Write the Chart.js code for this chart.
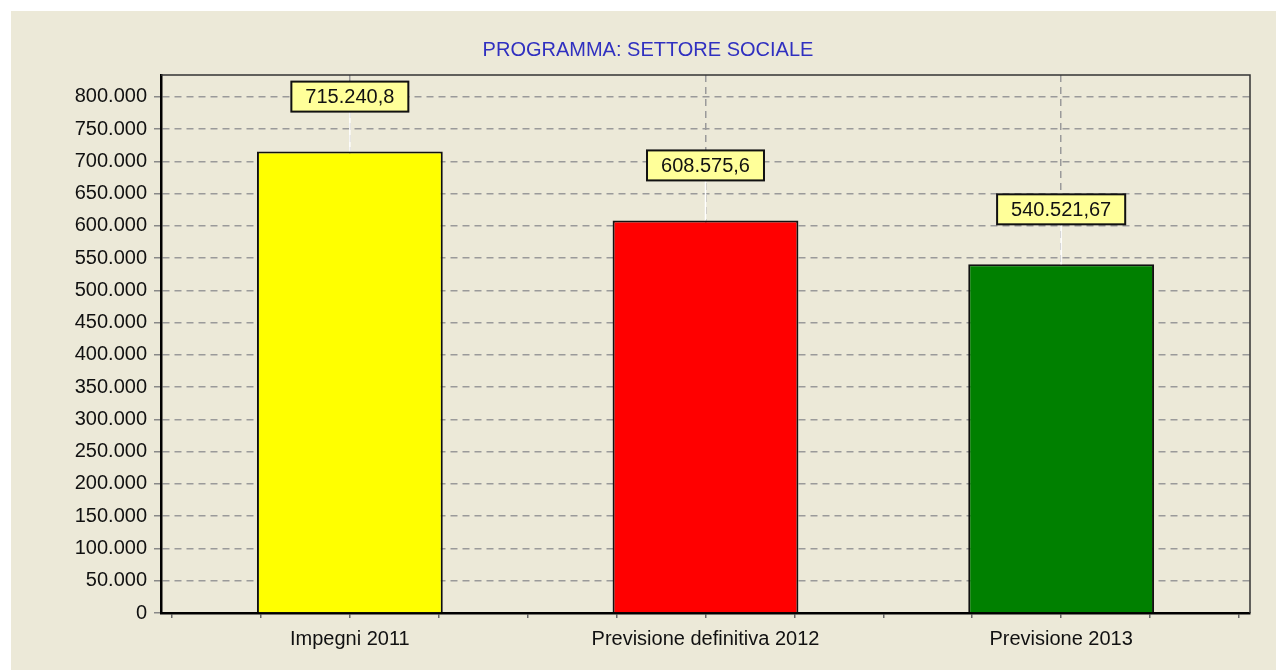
<!DOCTYPE html>
<html>
<head>
<meta charset="utf-8">
<script src="https://cdn.jsdelivr.net/npm/chart.js@4/dist/chart.umd.min.js"></script>
<style>
  html, body { margin: 0; padding: 0; background: #fff; }
  #wrap { width: 1276px; height: 670px; }
</style>
</head>
<body>
<div id="wrap"><canvas id="chart" width="1276" height="670"></canvas></div>
<script>
const categories = ['Impegni 2011', 'Previsione definitiva 2012', 'Previsione 2013'];
const values = [715240.8, 608575.6, 540521.67];
const valueLabels = ['715.240,8', '608.575,6', '540.521,67'];
const barColors = ['#FFFF00', '#FF0000', '#008000'];
const yTickStep = 50000;
const yMax = 834000;

const FONT = "'Liberation Sans', Arial, sans-serif";

// 800000 -> "800.000"
const fmtIt = (v) => String(Math.round(v)).replace(/\B(?=(\d{3})+(?!\d))/g, '.');

const panelBg = {
    id: 'panelBg',
    beforeDraw(chart) {
        const c = chart.ctx;
        c.save();
        c.fillStyle = '#fff';
        c.fillRect(0, 0, chart.width, chart.height);
        c.fillStyle = '#ECE9D8';
        c.fillRect(11, 11, chart.width - 11, chart.height - 11);
        c.restore();
    },
    beforeDatasetsDraw(chart) {
        const a = chart.chartArea;
        const c = chart.ctx;
        c.save();
        c.strokeStyle = '#333';
        c.lineWidth = 1.5;
        c.beginPath();
        c.moveTo(a.left, a.top);
        c.lineTo(a.right, a.top);
        c.lineTo(a.right, a.bottom);
        c.stroke();
        c.restore();
    }
};

const valueBoxes = {
    id: 'valueBoxes',
    afterDatasetsDraw(chart) {
        const c = chart.ctx;
        const meta = chart.getDatasetMeta(0);
        c.save();
        c.font = '20px ' + FONT;
        c.textAlign = 'center';
        c.textBaseline = 'middle';
        meta.data.forEach((bar, i) => {
            const txt = valueLabels[i];
            const w = c.measureText(txt).width + 28;
            const h = 30;
            const boxBottom = bar.y - 40;
            // white connector from box to bar
            c.strokeStyle = '#fff';
            c.lineWidth = 1.5;
            c.beginPath();
            c.moveTo(bar.x, boxBottom);
            c.lineTo(bar.x, bar.y);
            c.stroke();
            c.fillStyle = '#FFFF99';
            c.fillRect(bar.x - w / 2, boxBottom - h, w, h);
            c.strokeStyle = '#111';
            c.lineWidth = 2;
            c.strokeRect(bar.x - w / 2, boxBottom - h, w, h);
            c.fillStyle = '#111';
            c.fillText(txt, bar.x, boxBottom - h / 2 + 1);
        });
        c.restore();
    }
};

const ctx = document.getElementById('chart');

const chart = new Chart(ctx, {
    type: 'bar',
    data: {
        datasets: [{
            data: categories.map((c, i) => ({ x: i, y: values[i] })),
            backgroundColor: barColors,
            borderColor: '#111',
            borderWidth: 2,
            borderSkipped: 'bottom',
            categoryPercentage: 1,
            // ruler is the quarter tick spacing, bar is ~0.52 of a category
            barPercentage: 2.09
        }]
    },
    options: {
        responsive: false,
        animation: false,
        layout: { padding: { left: 46, right: 26, top: 0, bottom: 0 } },
        plugins: {
            legend: { display: false },
            tooltip: { enabled: false },
            title: {
                display: true,
                text: 'PROGRAMMA: SETTORE SOCIALE',
                color: '#3030C0',
                font: { family: FONT, size: 20, weight: 'normal', lineHeight: 1.2 },
                padding: { top: 38.5, bottom: 12.5 }
            }
        },
        scales: {
            x: {
                type: 'linear',
                offset: false,
                min: -0.531,
                max: 2.531,
                afterBuildTicks: (scale) => {
                    const t = [];
                    for (let k = -2; k <= 10; k++) t.push({ value: k / 4 });
                    scale.ticks = t;
                },
                afterFit: (scale) => { scale.height = 57; },
                ticks: {
                    autoSkip: false,
                    maxRotation: 0,
                    padding: 9,
                    color: '#111',
                    font: { family: FONT, size: 20 },
                    callback: (v) => Number.isInteger(v) ? categories[v] : ''
                },
                grid: {
                    offset: false,
                    color: (c) => (c.tick && Number.isInteger(c.tick.value)) ? '#9a9a9a' : 'rgba(0,0,0,0)',
                    tickColor: '#666',
                    tickLength: 5,
                    lineWidth: 1.5
                },
                border: { display: true, color: '#000', width: 2.5, dash: [7, 5] }
            },
            y: {
                min: 0,
                max: yMax,
                afterBuildTicks: (scale) => {
                    const t = [];
                    for (let v = 0; v <= yMax; v += yTickStep) t.push({ value: v });
                    scale.ticks = t;
                },
                afterFit: (scale) => { scale.width = 115; },
                ticks: {
                    autoSkip: false,
                    padding: 7,
                    color: '#111',
                    font: { family: FONT, size: 20 },
                    callback: (v) => fmtIt(v)
                },
                grid: {
                    color: '#9a9a9a',
                    tickColor: '#888',
                    tickLength: 7,
                    lineWidth: 1.5
                },
                border: { display: true, color: '#000', width: 2.5, dash: [7, 5] }
            }
        }
    },
    plugins: [panelBg, valueBoxes]
});
</script>
</body>
</html>
